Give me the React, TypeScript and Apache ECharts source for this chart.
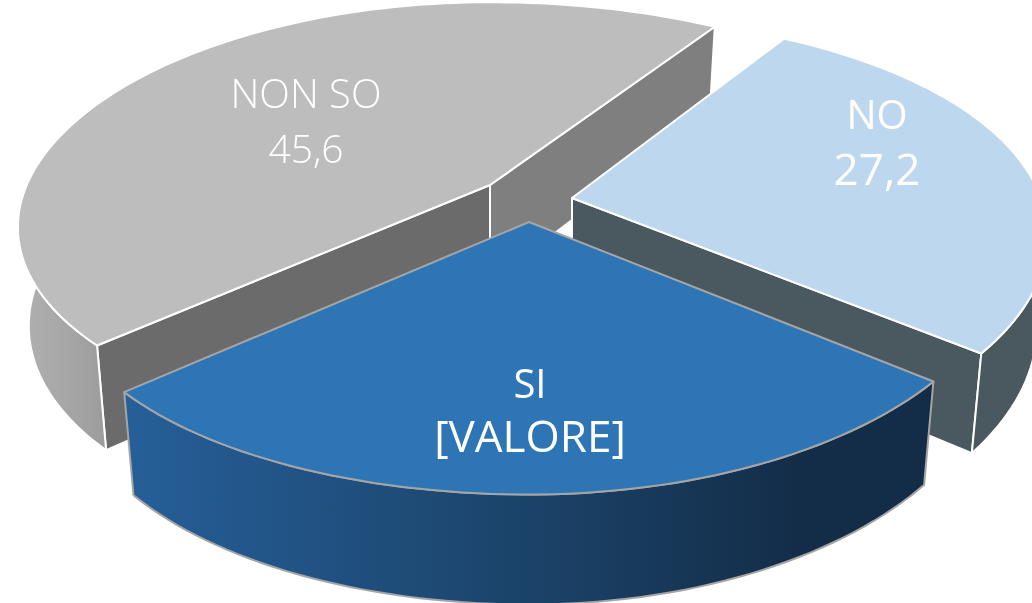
import React, { useEffect, useRef } from "react";
import * as echarts from "echarts";

const categories = ["NON SO", "NO", "SI"];
const values = [45.6, 27.2, 27.2];
const valueLabels = ["45,6", "27,2", "[VALORE]"];

const START_ANGLE = 229;
const RADIUS = 466;
const verticalBySlice = [212, 218, 218];
const perspectiveBySlice = [0.16, 0.2, 0.2];
const depthBySlice = [97, 90, 93];
const rotationBySlice = [0, -1, 0];
const TILT = -0.0135;
const BOTTOM_SCALE = 0.977;
const RIM_FROM = 82;
const RIM_TO = 277;
const apexes = [[490, 185], [572, 198], [529, 222]];
const labelX = [306, 877, 530];
const nameY = [92, 113, 382];
const valueY = [147, 168, 435];
const nameFont = ['300 40px "Open Sans"', '500 40px "Open Sans"', '500 40px "Open Sans"'];
const valueFont = ['300 39px "Open Sans"', '500 44px "Open Sans"', '400 44px "Open Sans"'];
const topFill = ["#bdbdbd", "#bdd7ee", "#2e75b6"];
const edge = ["#ffffff", "#ffffff", "#a5a5a5"];
const wallA = ["#6b6b6b", "#4a5860", "#1b4368"];
const wallB = ["#7f7f7f", "#4a5860", "#1b4368"];

const rimFill = (i: number) => {
  if (i === 0) return new echarts.graphic.LinearGradient(0, 0, 1, 0, [
    { offset: 0, color: "#b2b2b2" }, { offset: 1, color: "#9c9c9c" },
  ]);
  if (i === 1) return "#4a5860";
  return new echarts.graphic.LinearGradient(0, 0, 1, 0, [
    { offset: 0, color: "#265f99" }, { offset: 0.55, color: "#1a4064" }, { offset: 0.85, color: "#132c47" }, { offset: 1, color: "#132c47" },
  ]);
};

function App() {
  const ref = useRef<HTMLDivElement>(null);
  useEffect(() => {
    const chart = echarts.init(ref.current!, null, { renderer: "svg" });
    const total = values.reduce((a, b) => a + b, 0);
    const renderItem = (params: any, api: any) => {
      const i = params.dataIndex;
      const before = values.slice(0, i).reduce((a, b) => a + b, 0);
      const a0 = (START_ANGLE + (before / total) * 360) % 360 + rotationBySlice[i];
      const a1 = a0 + (api.value(0) / total) * 360;
      const [ax, ay] = apexes[i];
      const project = (deg: number, r: number, low: boolean) => {
        const t = (deg * Math.PI) / 180;
        const yn = -Math.cos(t) * r;
        const w = 1 - perspectiveBySlice[i] * yn;
        let x = (RADIUS * Math.sin(t) * r) / w;
        let y = (verticalBySlice[i] * yn) / w + (TILT * x * Math.abs(x)) / 405;
        if (low) { x *= BOTTOM_SCALE; y = y * BOTTOM_SCALE + depthBySlice[i] / w; }
        return [ax + x, ay + y];
      };
      const arc = (from: number, to: number, low: boolean) => {
        const pts: number[][] = [];
        for (let d = from; d < to; d += 1.5) pts.push(project(d, 1, low));
        pts.push(project(to, 1, low));
        return pts;
      };
      const facing = (normalDeg: number) => -Math.cos((normalDeg * Math.PI) / 180) > 0;
      const poly = (points: number[][], fill: any) => ({
        type: "polygon", shape: { points }, style: { fill, stroke: edge[i], lineWidth: 2, lineJoin: "round" },
      });
      const c = project(0, 0, false), cl = project(0, 0, true);
      const children: any[] = [];
      if (facing(a1 + 90)) children.push(poly([c, project(a1, 1, false), project(a1, 1, true), cl], wallB[i]));
      if (facing(a0 - 90)) children.push(poly([c, project(a0, 1, false), project(a0, 1, true), cl], wallA[i]));
      const from = Math.max(a0, RIM_FROM), to = Math.min(a1, RIM_TO);
      if (to > from) children.push(poly([...arc(from, to, false), ...arc(from, to, true).reverse()], rimFill(i)));
      children.push(poly([c, ...arc(a0, a1, false)], topFill[i]));
      children.push(
        { type: "text", style: { text: categories[i], x: labelX[i], y: nameY[i], align: "center", verticalAlign: "middle", fill: "#ffffff", font: nameFont[i] } },
        { type: "text", style: { text: valueLabels[i], x: labelX[i], y: valueY[i], align: "center", verticalAlign: "middle", fill: "#ffffff", font: valueFont[i] } },
      );
      return { type: "group", children };
    };
    chart.setOption({
      animation: false,
      series: [{
        type: "custom",
        coordinateSystem: "none",
        renderItem,
        data: values.map((v, i) => ({ name: categories[i], value: [v] })),
      }],
    });
    return () => chart.dispose();
  }, []);
  return <div ref={ref} style={{ position: "fixed", left: 0, top: 0, width: 1032, height: 603 }} />;
}

export default App;
